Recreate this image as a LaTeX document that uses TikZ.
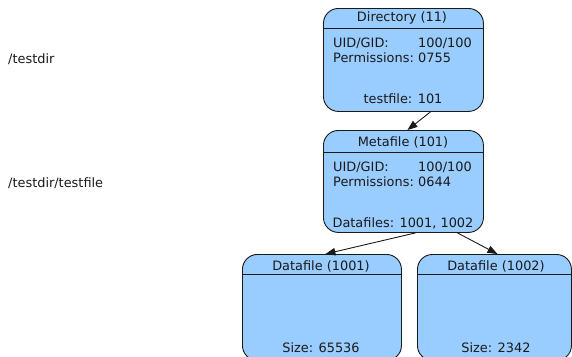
\documentclass[tikz,border=0pt]{standalone}
\usepackage{fontspec}
\setmainfont{DejaVu Sans}
\usetikzlibrary{arrows.meta,calc}
\definecolor{boxblue}{HTML}{99CCFF}
\definecolor{ink}{HTML}{1A1A1A}
\tikzset{
  box/.style={draw=ink, fill=boxblue, rounded corners=15pt, anchor=north west, inner sep=0pt, line width=0.9pt},
  sep/.style={draw=ink, line width=0.9pt},
  txt/.style={inner sep=0pt, text=ink, font=\fontsize{12.9}{15}\selectfont},
  link/.style={draw=ink, line width=0.9pt, -{Triangle[length=10pt,width=7.5pt]}}
}
\begin{document}
\begin{tikzpicture}[x=1pt,y=-1pt]
\useasboundingbox (0,0) rectangle (572,356);
\clip (0,0) rectangle (572,356);
% boxes
\node[box, minimum width=160pt, minimum height=103pt] (dir) at (323,8) {};
\node[box, minimum width=160pt, minimum height=102pt] (meta) at (323,130) {};
\node[box, minimum width=159pt, minimum height=106pt] (d1) at (242,254) {};
\node[box, minimum width=154pt, minimum height=106pt] (d2) at (417,254) {};
% header lines
\draw[sep] ([yshift=-20pt]dir.north west) -- ([yshift=-20pt]dir.north east);
\draw[sep] ([yshift=-22pt]meta.north west) -- ([yshift=-22pt]meta.north east);
\draw[sep] ([yshift=-20pt]d1.north west) -- ([yshift=-20pt]d1.north east);
\draw[sep] ([yshift=-20pt]d2.north west) -- ([yshift=-20pt]d2.north east);
% directory texts
\node[txt, anchor=base] (dirt) at (402,21) {Directory (11)};
\node[txt, anchor=base west] (diru) at (333,47.5) {UID/GID:};
\node[txt, anchor=base east] (diruv) at (472,47.5) {100/100};
\node[txt, anchor=base west] (dirp) at (333,62.5) {Permissions:};
\node[txt, anchor=base west] (dirpv) at (418,62.5) {0755};
\node[txt, anchor=base] (dirf) at (403,103) {testfile: 101};
% metafile texts
\node[txt, anchor=base] (metat) at (403,146) {Metafile (101)};
\node[txt, anchor=base west] (metau) at (333,171.5) {UID/GID:};
\node[txt, anchor=base east] (metauv) at (472,171.5) {100/100};
\node[txt, anchor=base west] (metap) at (333,186) {Permissions:};
\node[txt, anchor=base west] (metapv) at (418,186) {0644};
\node[txt, anchor=base] (metad) at (403,227) {Datafiles: 1001, 1002};
% datafile texts
\node[txt, anchor=base] (d1t) at (321,270) {Datafile (1001)};
\node[txt, anchor=base] (d1s) at (321,352) {Size: 65536};
\node[txt, anchor=base] (d2t) at (496,270) {Datafile (1002)};
\node[txt, anchor=base] (d2s) at (496,352) {Size: 2342};
% path labels
\node[txt, anchor=base west] (p1) at (8,63.5) {/testdir};
\node[txt, anchor=base west] (p2) at (8,187.5) {/testdir/testfile};
% connectors
\draw[link] ([xshift=27pt]dir.south) -- ([xshift=4pt]meta.north);
\draw[link] ([xshift=12pt]meta.south) -- ([xshift=3.5pt]d1.north);
\draw[link] ([xshift=54pt]meta.south) -- ([xshift=3pt]d2.north);
\end{tikzpicture}
\end{document}
